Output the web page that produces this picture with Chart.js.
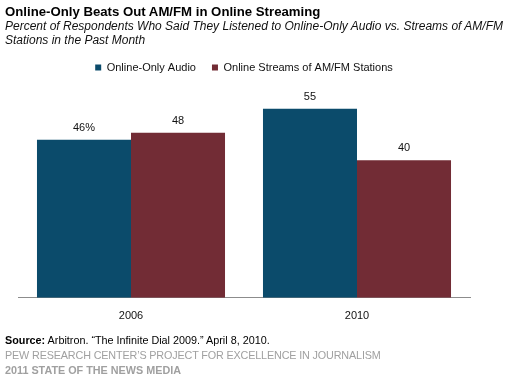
<!DOCTYPE html>
<html>
<head>
<meta charset="utf-8">
<script src="https://cdn.jsdelivr.net/npm/chart.js@4"></script>
<style>
  html, body { margin: 0; padding: 0; background: #fff; }
  #wrap { position: relative; width: 506px; height: 383px; font-family: "Liberation Sans", Arial, sans-serif; }
  #chart { position: absolute; left: 0; top: 0; }
  .txt { position: absolute; left: 5px; white-space: nowrap; }
  #title { top: 4px; font-size: 13.2px; font-weight: bold; color: #000; }
  #sub { top: 19px; font-size: 12px; font-style: italic; color: #111; line-height: 14px; }
  #src { top: 334px; font-size: 10.8px; color: #000; }
  #pew { top: 349px; font-size: 10.8px; color: #a0a0a0; letter-spacing: -0.15px; }
  #som { top: 364px; font-size: 10.8px; color: #a0a0a0; font-weight: bold; }
</style>
</head>
<body>
<div id="wrap">
  <canvas id="chart" width="506" height="383"></canvas>
  <div class="txt" id="title">Online-Only Beats Out AM/FM in Online Streaming</div>
  <div class="txt" id="sub">Percent of Respondents Who Said They Listened to Online-Only Audio vs. Streams of AM/FM<br>Stations in the Past Month</div>
  <div class="txt" id="src"><b>Source:</b> Arbitron. “The Infinite Dial 2009.” April 8, 2010.</div>
  <div class="txt" id="pew">PEW RESEARCH CENTER’S PROJECT FOR EXCELLENCE IN JOURNALISM</div>
  <div class="txt" id="som">2011 STATE OF THE NEWS MEDIA</div>
</div>
<script>
const years = ['2006', '2010'];
const onlineOnly = [46, 55];
const amfmStreams = [48, 40];

const valueLabels = {
  id: 'valueLabels',
  afterDatasetsDraw(chart) {
    const ctx = chart.ctx;
    ctx.save();
    ctx.font = '11px "Liberation Sans", Arial, sans-serif';
    ctx.fillStyle = '#111';
    ctx.textAlign = 'center';
    ctx.textBaseline = 'middle';
    chart.data.datasets.forEach((ds, di) => {
      chart.getDatasetMeta(di).data.forEach((bar, i) => {
        const txt = (di === 0 && i === 0) ? ds.data[i] + '%' : String(ds.data[i]);
        ctx.fillText(txt, bar.x, bar.y - 12);
      });
    });
    ctx.restore();
  }
};

new Chart(document.getElementById('chart'), {
  type: 'bar',
  data: {
    labels: years,
    datasets: [
      { label: 'Online-Only Audio', data: onlineOnly, backgroundColor: '#0b4b6b' },
      { label: 'Online Streams of AM/FM Stations', data: amfmStreams, backgroundColor: '#722c35' }
    ]
  },
  options: {
    responsive: false,
    animation: false,
    layout: { padding: { top: 46, left: 18, right: 36, bottom: 56 } },
    datasets: { bar: { barPercentage: 1.0, categoryPercentage: 0.832 } },
    plugins: {
      legend: {
        position: 'top',
        labels: {
          boxWidth: 6,
          boxHeight: 6,
          padding: 16,
          color: '#111',
          font: { family: '"Liberation Sans", Arial, sans-serif', size: 11 }
        }
      },
      tooltip: { enabled: false }
    },
    scales: {
      x: {
        grid: { display: false },
        border: { display: true, color: '#8c8c8c', width: 1 },
        ticks: { color: '#111', padding: 4, font: { family: '"Liberation Sans", Arial, sans-serif', size: 11 } }
      },
      y: { display: false, min: 0, max: 62.5 }
    }
  },
  plugins: [valueLabels]
});
</script>
</body>
</html>
